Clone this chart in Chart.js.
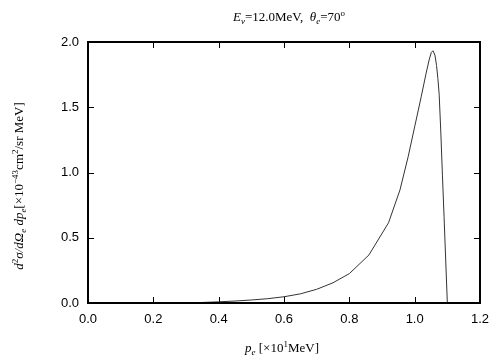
<!DOCTYPE html>
<html>
<head>
<meta charset="utf-8">
<script src="https://cdn.jsdelivr.net/npm/chart.js@4"></script>
<style>
html,body{margin:0;padding:0;background:#fff;}
#wrap{width:504px;height:360px;}
</style>
</head>
<body>
<div id="wrap"><canvas id="c" width="504" height="360"></canvas></div>
<script>
// momentum p_e [x10 MeV]
const momentum = [0.30, 0.35, 0.40, 0.45, 0.50, 0.55, 0.60, 0.65, 0.70, 0.75, 0.80, 0.86, 0.92, 0.955, 0.98, 1.00, 1.02, 1.035, 1.045, 1.051, 1.056, 1.062, 1.067, 1.071, 1.075, 1.080, 1.085, 1.090, 1.095, 1.100];
// cross section [x10^-43 cm^2/sr MeV]
const crossSection = [0.0, 0.004, 0.009, 0.015, 0.023, 0.033, 0.048, 0.070, 0.105, 0.155, 0.225, 0.368, 0.615, 0.866, 1.12, 1.35, 1.58, 1.76, 1.87, 1.92, 1.933, 1.90, 1.82, 1.72, 1.60, 1.31, 0.98, 0.66, 0.33, 0.0];
const xTicks = [0.0, 0.2, 0.4, 0.6, 0.8, 1.0, 1.2];
const yTicks = [0.0, 0.5, 1.0, 1.5, 2.0];

const titleSegs = [{t:'E',i:1},{t:'ν',i:1,sub:1},{t:'=12.0MeV,  '},{t:'θ',i:1},{t:'e',i:1,sub:1},{t:'=70'},{t:'o',sup:1}];
const xLabelSegs = [{t:'p',i:1},{t:'e',i:1,sub:1},{t:' [×10'},{t:'1',sup:1},{t:'MeV]'}];
const yLabelSegs = [{t:'d',i:1},{t:'2',sup:1},{t:'σ/dΩ',i:1},{t:'e',i:1,sub:1},{t:' dp',i:1},{t:'e',i:1,sub:1},{t:'[×10'},{t:'−43',sup:1},{t:'cm'},{t:'2',sup:1},{t:'/sr MeV]'}];

const points = momentum.map((x, k) => ({x: x, y: crossSection[k]}));

function segFont(s, size) {
  const sz = (s.sub || s.sup) ? Math.round(size * 0.72) : size;
  return (s.i ? 'italic ' : '') + sz + 'px "Liberation Serif", "DejaVu Serif", serif';
}
function segsWidth(ctx, segs, size) {
  let w = 0;
  segs.forEach(s => { ctx.font = segFont(s, size); w += ctx.measureText(s.t).width; });
  return w;
}
function drawSegs(ctx, segs, size, cx, baseline) {
  const w = segsWidth(ctx, segs, size);
  let x = cx - w / 2;
  ctx.textAlign = 'left';
  ctx.textBaseline = 'alphabetic';
  segs.forEach(s => {
    ctx.font = segFont(s, size);
    let y = baseline;
    if (s.sub) y += size * 0.25;
    if (s.sup) y -= size * 0.42;
    ctx.fillText(s.t, x, y);
    x += ctx.measureText(s.t).width;
  });
}

const framePlugin = {
  id: 'frame',
  afterDraw(chart) {
    const ctx = chart.ctx;
    const a = chart.chartArea;
    const xs = chart.scales.x, ys = chart.scales.y;
    ctx.save();
    ctx.strokeStyle = '#000';
    ctx.lineWidth = 1;
    const tl = 6;
    ctx.beginPath();
    xs.ticks.forEach(t => {
      const px = Math.round(xs.getPixelForValue(t.value)) + 0.5;
      ctx.moveTo(px, a.bottom); ctx.lineTo(px, a.bottom - tl);
      ctx.moveTo(px, a.top); ctx.lineTo(px, a.top + tl);
    });
    ys.ticks.forEach(t => {
      const py = Math.round(ys.getPixelForValue(t.value)) + 0.5;
      ctx.moveTo(a.left, py); ctx.lineTo(a.left + tl, py);
      ctx.moveTo(a.right, py); ctx.lineTo(a.right - tl, py);
    });
    ctx.stroke();
    ctx.lineWidth = 2;
    ctx.strokeRect(a.left, a.top, a.right - a.left, a.bottom - a.top);
    ctx.fillStyle = '#000';
    drawSegs(ctx, titleSegs, 13, 289, 21);
    drawSegs(ctx, xLabelSegs, 13, 282, 352);
    ctx.translate(23, 186);
    ctx.rotate(-Math.PI / 2);
    drawSegs(ctx, yLabelSegs, 13, 0, 0);
    ctx.restore();
  }
};

new Chart(document.getElementById('c'), {
  type: 'scatter',
  data: {
    datasets: [{
      data: points,
      showLine: true,
      borderColor: '#333',
      borderWidth: 1,
      pointRadius: 0,
      tension: 0,
      fill: false
    }]
  },
  options: {
    responsive: false,
    animation: false,
    devicePixelRatio: 1,
    layout: {padding: {top: 42, right: 24, left: 0, bottom: 0}},
    plugins: {legend: {display: false}, tooltip: {enabled: false}, title: {display: false}},
    scales: {
      x: {
        type: 'linear', min: 0, max: 1.2,
        afterBuildTicks: s => { s.ticks = xTicks.map(v => ({value: v})); },
        afterFit: s => { s.height = 57; },
        grid: {display: false, drawTicks: false},
        border: {display: false},
        ticks: {
          padding: 9, color: '#000',
          font: {family: '"Liberation Sans", Arial, sans-serif', size: 13},
          callback: v => v.toFixed(1)
        }
      },
      y: {
        type: 'linear', min: 0, max: 2,
        afterBuildTicks: s => { s.ticks = yTicks.map(v => ({value: v})); },
        afterFit: s => { s.width = 88; },
        grid: {display: false, drawTicks: false},
        border: {display: false},
        ticks: {
          padding: 9, color: '#000',
          font: {family: '"Liberation Sans", Arial, sans-serif', size: 13},
          callback: v => v.toFixed(1)
        }
      }
    }
  },
  plugins: [framePlugin]
});
</script>
</body>
</html>
